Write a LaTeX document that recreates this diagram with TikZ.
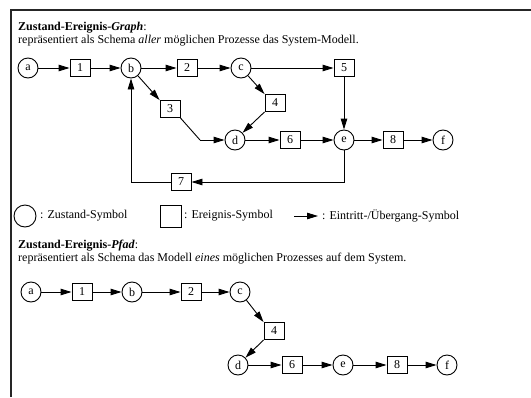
\documentclass[tikz,border=0pt]{standalone}
\usepackage{fontspec}
\setmainfont{Liberation Serif}
\usetikzlibrary{arrows.meta}
\begin{document}
\begin{tikzpicture}[x=1pt,y=-1pt,
  state/.style={draw,circle,minimum size=20pt,inner sep=0pt,line width=0.9pt,font=\fontsize{12}{13}\selectfont},
  event/.style={draw,rectangle,minimum width=20pt,minimum height=17pt,inner sep=0pt,line width=0.9pt,font=\fontsize{12}{13}\selectfont},
  flow/.style={line width=0.9pt,-{Triangle[length=11pt,width=6.5pt]}},
  plain/.style={line width=0.9pt},
  txt/.style={anchor=base west,inner sep=0pt,font=\fontsize{12}{13}\selectfont},
  frame/.style={line width=1.2pt,black!85}]
\useasboundingbox (0,0) rectangle (531,397);
\draw[frame] (11,397) -- (11,10) -- (531,10);
% headers
\node[txt] (h1) at (18,30) {\textbf{Zustand-Ereignis-\textit{Graph}}:};
\node[txt] (h1b) at (18,43) {repräsentiert als Schema \textit{aller} möglichen Prozesse das System-Modell.};
% top graph
\node[state] (a) at (28,68) {a};
\node[event] (n1) at (80,68) {1};
\node[state] (b) at (131,68) {b};
\node[event] (n2) at (187,68) {2};
\node[state] (c) at (241,68) {c};
\node[event] (n5) at (344,68) {5};
\node[event] (n3) at (170,109) {3};
\node[event] (n4) at (275,103) {4};
\node[state] (d) at (235,140) {d};
\node[event] (n6) at (290,140) {6};
\node[state] (e) at (344,140) {e};
\node[event] (n8) at (393,140) {8};
\node[state] (f) at (443,140) {f};
\node[event] (n7) at (181,182) {7};
\coordinate (k3) at (200,140);
\coordinate (ke) at (344,182);
\coordinate (kb) at (131,182);
\draw[flow] (a) -- (n1);
\draw[flow] (n1) -- (b);
\draw[flow] (b) -- (n2);
\draw[flow] (n2) -- (c);
\draw[flow] (c) -- (n5);
\draw[flow] (b) -- (n3.north west);
\draw[flow] (c) -- (n4.north west);
\draw[flow] (n4.south west) -- (d);
\draw[plain] (n3.south east) -- (k3);
\draw[flow] (k3) -- (d);
\draw[flow] (d) -- (n6);
\draw[flow] (n6) -- (e);
\draw[flow] (e) -- (n8);
\draw[flow] (n8) -- (f);
\draw[flow] (n5) -- (e);
\draw[flow] (e) -- (ke) -- (n7);
\draw[flow] (n7) -- (kb) -- (b);
% legend
\node[draw,circle,minimum size=22pt,inner sep=0pt,line width=0.9pt] (ls) at (25,216) {};
\node[txt,anchor=west] (lst) at (40,216) {: Zustand-Symbol};
\node[draw,rectangle,minimum width=21pt,minimum height=22pt,inner sep=0pt,line width=0.6pt] (le) at (171,216) {};
\node[txt,anchor=west] (let) at (184,216) {: Ereignis-Symbol};
\coordinate (la1) at (294,216);
\coordinate (la2) at (318,216);
\draw[flow] (la1) -- (la2);
\node[txt,anchor=west] (lat) at (322,216) {: Eintritt-/Übergang-Symbol};
% second header
\node[txt] (h2) at (18,248) {\textbf{Zustand-Ereignis-\textit{Pfad}}:};
\node[txt] (h2b) at (18,261) {repräsentiert als Schema das Modell \textit{eines} möglichen Prozesses auf dem System.};
% path
\node[state] (pa) at (31,292) {a};
\node[event] (p1) at (82,292) {1};
\node[state] (pb) at (132,292) {b};
\node[event] (p2) at (191,292) {2};
\node[state] (pc) at (240,292) {c};
\node[event] (p4) at (274,331) {4};
\node[state] (pd) at (238,365) {d};
\node[event] (p6) at (292,365) {6};
\node[state] (pe) at (343,365) {e};
\node[event] (p8) at (397,365) {8};
\node[state] (pf) at (447,365) {f};
\draw[flow] (pa) -- (p1);
\draw[flow] (p1) -- (pb);
\draw[flow] (pb) -- (p2);
\draw[flow] (p2) -- (pc);
\draw[flow] (pc) -- (p4.north west);
\draw[flow] (p4.south west) -- (pd);
\draw[flow] (pd) -- (p6);
\draw[flow] (p6) -- (pe);
\draw[flow] (pe) -- (p8);
\draw[flow] (p8) -- (pf);
\end{tikzpicture}
\end{document}
